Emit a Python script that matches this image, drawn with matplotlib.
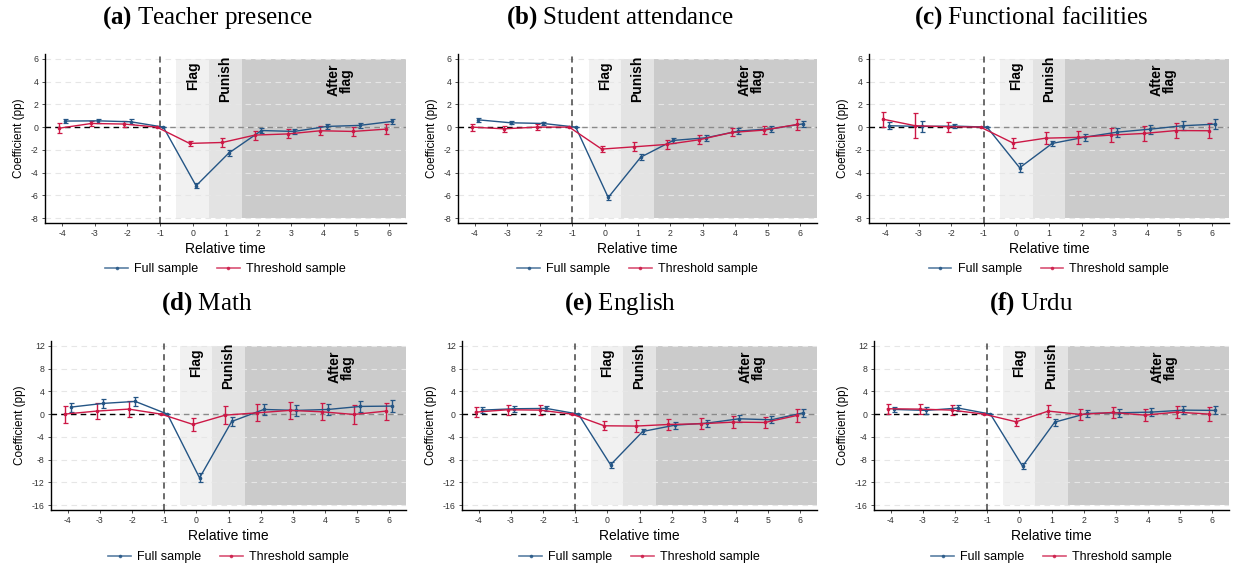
import matplotlib
matplotlib.use("Agg")
import matplotlib.pyplot as plt
from matplotlib.lines import Line2D
import numpy as np

plt.rcParams['font.family'] = ['Liberation Sans', 'DejaVu Sans']
plt.rcParams['mathtext.fontset'] = 'custom'
plt.rcParams['mathtext.rm'] = 'Liberation Serif'
plt.rcParams['mathtext.bf'] = 'Liberation Serif:bold'

rel_time = [-4, -3, -2, -1, 0, 1, 2, 3, 4, 5, 6]

titles = ["(a)|Teacher presence", "(b)|Student attendance", "(c)|Functional facilities",
          "(d)|Math", "(e)|English", "(f)|Urdu"]

# Full sample coefficients and CI half-widths
full_a = [0.53, 0.55, 0.47, 0.0, -5.15, -2.28, -0.30, -0.38, 0.06, 0.15, 0.50]
full_a_ci = [0.2, 0.2, 0.2, 0.0, 0.2, 0.25, 0.25, 0.25, 0.25, 0.25, 0.25]
thr_a = [-0.10, 0.32, 0.27, 0.0, -1.43, -1.35, -0.70, -0.60, -0.32, -0.38, -0.18]
thr_a_ci = [0.45, 0.25, 0.25, 0.0, 0.25, 0.4, 0.4, 0.4, 0.4, 0.4, 0.45]

full_b = [0.64, 0.38, 0.32, 0.0, -6.18, -2.64, -1.17, -0.94, -0.35, -0.15, 0.29]
full_b_ci = [0.15, 0.15, 0.15, 0.0, 0.2, 0.25, 0.25, 0.25, 0.25, 0.25, 0.25]
thr_b = [0.0, -0.15, 0.0, 0.0, -1.93, -1.73, -1.52, -1.11, -0.47, -0.26, 0.23]
thr_b_ci = [0.3, 0.25, 0.25, 0.0, 0.25, 0.4, 0.4, 0.4, 0.35, 0.35, 0.45]

full_c = [0.12, 0.06, 0.09, 0.0, -3.57, -1.43, -0.88, -0.44, -0.18, 0.12, 0.26]
full_c_ci = [0.3, 0.45, 0.2, 0.0, 0.4, 0.25, 0.3, 0.4, 0.4, 0.4, 0.45]
thr_c = [0.70, 0.12, 0.03, 0.0, -1.40, -0.97, -0.90, -0.70, -0.56, -0.30, -0.32]
thr_c_ci = [0.65, 1.1, 0.45, 0.0, 0.45, 0.5, 0.6, 0.6, 0.65, 0.65, 0.65]

full_d = [1.23, 1.88, 2.23, 0.0, -11.2, -1.29, 0.82, 0.65, 0.82, 1.35, 1.41]
full_d_ci = [0.8, 0.8, 0.8, 0.0, 0.8, 0.8, 0.9, 0.9, 0.9, 1.0, 1.0]
thr_d = [0.0, 0.53, 0.88, 0.0, -1.82, -0.18, 0.23, 0.65, 0.41, -0.06, 0.53]
thr_d_ci = [1.5, 1.4, 1.4, 0.0, 1.2, 1.6, 1.5, 1.5, 1.5, 1.7, 1.5]

full_e = [0.70, 0.94, 1.00, 0.0, -8.9, -3.05, -1.94, -1.58, -0.82, -1.00, 0.23]
full_e_ci = [0.5, 0.5, 0.4, 0.0, 0.5, 0.5, 0.6, 0.6, 0.6, 0.6, 0.7]
thr_e = [0.35, 0.76, 0.70, 0.0, -2.05, -2.10, -1.82, -1.70, -1.41, -1.47, -0.23]
thr_e_ci = [0.9, 0.9, 0.9, 0.0, 0.8, 1.0, 1.0, 1.0, 1.0, 1.0, 1.1]

full_f = [0.82, 0.65, 1.06, 0.0, -9.15, -1.41, 0.12, 0.23, 0.35, 0.70, 0.65]
full_f_ci = [0.5, 0.6, 0.5, 0.0, 0.5, 0.6, 0.6, 0.7, 0.7, 0.7, 0.7]
thr_f = [0.94, 0.88, 0.70, 0.0, -1.35, 0.53, -0.06, 0.29, -0.18, 0.35, 0.0]
thr_f_ci = [0.9, 0.9, 0.9, 0.0, 0.7, 1.0, 0.9, 1.0, 1.1, 1.1, 1.2]

full_all = [full_a, full_b, full_c, full_d, full_e, full_f]
full_ci_all = [full_a_ci, full_b_ci, full_c_ci, full_d_ci, full_e_ci, full_f_ci]
thr_all = [thr_a, thr_b, thr_c, thr_d, thr_e, thr_f]
thr_ci_all = [thr_a_ci, thr_b_ci, thr_c_ci, thr_d_ci, thr_e_ci, thr_f_ci]

yticks_row1 = [-8, -6, -4, -2, 0, 2, 4, 6]
yticks_row2 = [-16, -12, -8, -4, 0, 4, 8, 12]

BLUE = '#245585'
RED = '#cc1846'

W, H = 1233, 569
fig = plt.figure(figsize=(W / 100, H / 100), dpi=100)
fig.patch.set_facecolor('white')

# axes boxes in pixel coords: left, right, top, bottom
boxes = [(45, 406, 54, 223), (458, 817, 54, 223), (869, 1229, 54, 223),
         (51, 406, 341, 510), (462, 817, 341, 510), (874, 1229, 341, 510)]
title_x = [207, 620, 1031, 207, 620, 1031]
title_y = [18, 18, 18, 304, 304, 304]
legend_y = [269, 269, 269, 557, 557, 557]

for i in range(6):
    l, r, t, b = boxes[i]
    ax = fig.add_axes([l / W, 1 - b / H, (r - l) / W, (b - t) / H])
    row2 = i >= 3
    yt = yticks_row2 if row2 else yticks_row1
    ymin, ymax = yt[0], yt[-1]
    pad = (ymax - ymin) * 0.03
    ax.set_ylim(ymin - pad, ymax + pad)
    ax.set_xlim(-4.52, 6.52)

    # shaded periods
    ax.fill_between([-0.5, 0.5], ymin, ymax, color='#f1f1f1', lw=0, zorder=0)
    ax.fill_between([0.5, 1.5], ymin, ymax, color='#e3e3e3', lw=0, zorder=0)
    ax.fill_between([1.5, 6.52], ymin, ymax, color='#cbcbcb', lw=0, zorder=0)

    # grid lines
    for y in yt:
        ax.plot([-4.52, 6.52], [y, y], color='#e6e6e6', lw=0.8, ls=(0, (5, 4)), zorder=1)

    # zero lines and event line
    ax.plot([-4.52, -1], [0, 0], color='black', lw=1.0, ls=(0, (4, 3)), zorder=2)
    ax.plot([-1, 6.52], [0, 0], color='#8a8a8a', lw=1.0, ls=(0, (4, 3)), zorder=2)
    ax.axvline(-1, color='#444444', lw=1.1, ls=(0, (4, 3)), zorder=2)

    xs = np.array(rel_time, dtype=float)
    ax.errorbar(xs + 0.1, full_all[i], yerr=full_ci_all[i], color=BLUE, lw=1.0,
                elinewidth=1.0, capsize=1.8, capthick=0.9, marker='o', ms=1.6, zorder=4)
    ax.errorbar(xs - 0.1, thr_all[i], yerr=thr_ci_all[i], color=RED, lw=1.0,
                elinewidth=1.0, capsize=1.8, capthick=0.9, marker='o', ms=1.6, zorder=4)

    trans = ax.get_xaxis_transform()
    ax.text(0, 0.87, 'Flag', rotation=90, ha='center', va='center', fontsize=10,
            fontweight='bold', transform=trans, zorder=5)
    ax.text(1, 0.853, 'Punish', rotation=90, ha='center', va='center', fontsize=10,
            fontweight='bold', transform=trans, zorder=5)
    ax.text(4.5, 0.845, 'After\nflag', rotation=90, ha='center', va='center', fontsize=10,
            fontweight='bold', transform=trans, linespacing=0.9, zorder=5)

    ax.set_xticks(rel_time)
    ax.set_xticklabels([str(v) for v in rel_time])
    ax.set_yticks(yt)
    ax.set_yticklabels([str(v) for v in yt])
    ax.tick_params(axis='both', labelsize=6.3, length=2.5, width=0.6, pad=2, colors='#333333')
    for s in ['top', 'right']:
        ax.spines[s].set_visible(False)
    for s in ['left', 'bottom']:
        ax.spines[s].set_color('black')
        ax.spines[s].set_linewidth(1.0)
    ax.set_xlabel('Relative time', fontsize=10, labelpad=3)
    ax.set_ylabel('Coefficient (pp)', fontsize=8.5, labelpad=4)

    tag, name = titles[i].split('|')
    fig.text(title_x[i] / W, 1 - title_y[i] / H, r'$\mathbf{' + tag + r'}$ ' + name,
             ha='center', va='center', fontsize=18, family='Liberation Serif')

    handles = [Line2D([0], [0], color=BLUE, lw=1.2, marker='o', ms=1.6, alpha=0.75),
               Line2D([0], [0], color=RED, lw=1.2, marker='o', ms=1.6, alpha=0.75)]
    cx = (l + r) / 2 / W
    fig.legend(handles, ['Full sample', 'Threshold sample'], loc='center',
               bbox_to_anchor=(cx, 1 - legend_y[i] / H), ncol=2, frameon=False,
               fontsize=9, handlelength=1.8, columnspacing=1.5, handletextpad=0.5)

fig.savefig('out.png', dpi=100)
